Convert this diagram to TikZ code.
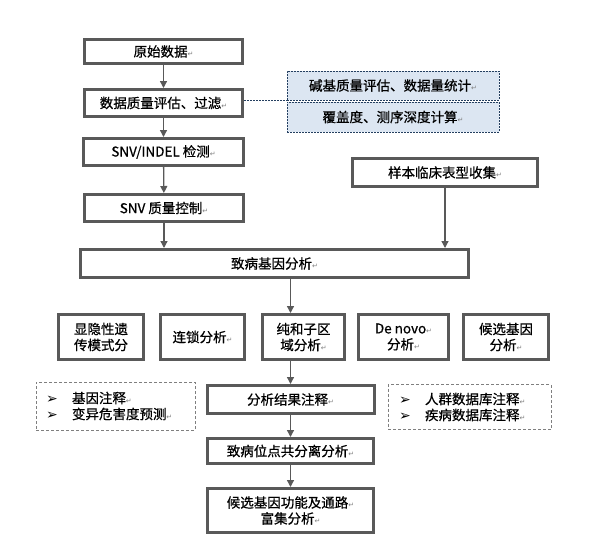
\documentclass[tikz,border=0pt]{standalone}
\usepackage{fontspec}
\setmainfont{Noto Sans CJK SC}[UprightFeatures={FakeBold=0.6}]
\newfontfamily\symfont{DejaVu Sans}
\usetikzlibrary{arrows.meta}
\definecolor{boxgray}{HTML}{595959}
\definecolor{dashgray}{HTML}{7F7F7F}
\definecolor{bluefill}{HTML}{DCE6F2}
\definecolor{blueline}{HTML}{243F60}
\newcommand{\pmk}{{\symfont\fontsize{7}{7}\selectfont\textcolor{gray}{↵}}}
\newcommand{\bul}{\makebox[26pt][l]{\symfont\fontsize{14}{14}\selectfont ➢}}
\begin{document}
\begin{tikzpicture}[x=1pt,y=-1pt,
  box/.style={draw=boxgray,line width=3pt,align=center,inner sep=1pt,font=\fontsize{13.5}{16}\selectfont},
  bluebox/.style={draw=blueline,dash pattern=on 2pt off 1pt,line width=0.8pt,fill=bluefill,
    minimum width=212pt,align=center,font=\fontsize{13.5}{16}\selectfont},
  notebox/.style={draw=dashgray,dash pattern=on 3pt off 2pt,line width=0.8pt,align=left,
    font=\fontsize{13.5}{16}\selectfont},
  arr/.style={draw=boxgray,line width=1.3pt,-{Triangle[length=7pt,width=7pt]}}]
\useasboundingbox (0,0) rectangle (590,550);

% preprocessing
\node[box,minimum width=158pt,minimum height=24pt] (raw) at (163.5,51.5) {原始数据\pmk};
\node[box,minimum width=158pt,minimum height=27pt] (qc) at (163.5,103) {数据质量评估、过滤\pmk};
\node[box,minimum width=160pt,minimum height=27pt] (call) at (163.5,152) {SNV/INDEL 检测\pmk};
\node[box,minimum width=159pt,minimum height=27pt] (snvqc) at (164,208) {SNV 质量控制\pmk};
\node[bluebox,minimum height=29pt] (stat1) at (393,85.5) {碱基质量评估、数据量统计\pmk};
\node[bluebox,minimum height=30pt] (stat2) at (393,117) {覆盖度、测序深度计算\pmk};
\node[box,minimum width=185pt,minimum height=28pt] (pheno) at (445,172.5) {样本临床表型收集\pmk};
\node[box,minimum width=388pt,minimum height=28pt] (gene) at (274.5,263.5) {致病基因分析\pmk};

% analysis methods
\node[box,minimum width=85pt,minimum height=45pt] (mode) at (101,337) {显隐性遗\\传模式分};
\node[box,minimum width=84pt,minimum height=45pt] (link) at (202.5,337) {连锁分析\pmk};
\node[box,minimum width=82pt,minimum height=45pt] (homo) at (303.5,337) {纯和子区\\域分析\pmk};
\node[box,minimum width=90pt,minimum height=45pt] (denovo) at (403.5,337) {De novo\pmk\\分析\pmk};
\node[box,minimum width=85pt,minimum height=45pt] (cand) at (506,337) {候选基因\\分析\pmk};

% annotation
\node[box,minimum width=167pt,minimum height=28pt] (anno) at (290.5,399.5) {分析结果注释\pmk};
\node[notebox,minimum width=159pt,minimum height=48pt,inner xsep=10pt,text width=139pt] (noteL) at (115.5,406)
  {\bul 基因注释\pmk\\\bul 变异危害度预测\pmk};
\node[notebox,minimum width=163pt,minimum height=45pt,inner xsep=11pt,text width=141pt] (noteR) at (469.5,407)
  {\bul 人群数据库注释\pmk\\\bul 疾病数据库注释\pmk};
\node[box,minimum width=166pt,minimum height=25pt] (coseg) at (290.5,451) {致病位点共分离分析\pmk};
\node[box,minimum width=166pt,minimum height=44pt] (enrich) at (290.5,510.5) {候选基因功能及通路\pmk\\富集分析\pmk};

\draw[arr] (raw) -- (qc);
\draw[arr] (qc) -- (call);
\draw[arr] (call) -- (snvqc);
\draw[arr] (snvqc.south) -- (snvqc.south |- gene.north);
\draw[arr] (pheno.south) -- (pheno.south |- gene.north);
\draw[blueline,dash pattern=on 2pt off 1pt,line width=0.8pt] (stat1.south west -| qc.east) -- (stat1.south west);
\draw[arr] (gene.south -| anno.north) -- (homo.north -| anno.north);
\draw[arr] (homo.south -| anno.north) -- (anno.north);
\draw[arr] (anno) -- (coseg);
\draw[arr] (coseg) -- (enrich);
\end{tikzpicture}
\end{document}
